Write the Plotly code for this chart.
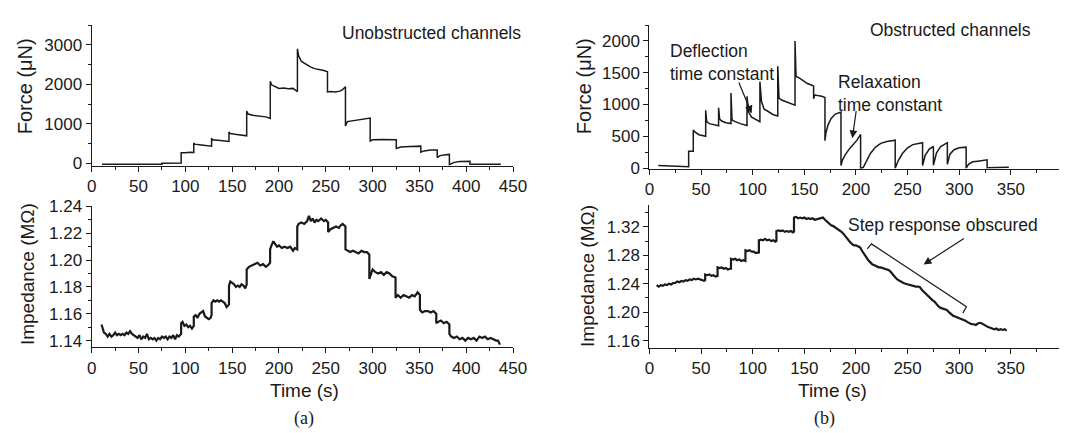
import plotly.graph_objects as go

# ---------------- data ----------------
# (a) unobstructed channels: force (uN) vs time (s)
force_a_time = [11, 20, 30, 40, 50, 60, 70, 75, 75, 80, 85, 90, 95.5,
                95.5, 100, 105, 109,
                109, 110, 115, 120, 125, 128,
                128, 129, 135, 140, 146.6,
                146.6, 148, 153, 160, 165.5,
                165.5, 167, 172, 180, 186, 190.7,
                190.7, 192, 196, 200, 205, 210, 215, 219.7,
                219.7, 221, 224, 228, 233, 238, 243, 248, 251.8,
                251.8, 255, 260, 265, 268, 271,
                271, 273, 278, 285, 290, 295, 297.4,
                297.4, 300, 310, 318, 325.3,
                325.3, 330, 340, 351.5,
                351.5, 355, 362, 369,
                369, 372, 378, 382,
                382, 387, 393, 398, 404,
                404, 410, 420, 430, 437]
force_a_value = [-15, -18, -20, -15, -20, -18, -20, -20, 10, 15, 5, 20, 15,
                 275, 270, 285, 280,
                 520, 490, 475, 465, 450, 440,
                 640, 600, 590, 570, 560,
                 800, 760, 740, 720, 700,
                 1330, 1250, 1220, 1200, 1180, 1140,
                 2080, 1990, 1950, 1900, 1910, 1890, 1900, 1820,
                 2900, 2720, 2580, 2520, 2450, 2400, 2380, 2350, 2320,
                 1810, 1820, 1810, 1830, 1870, 1940,
                 950, 1060, 1080, 1100, 1120, 1150, 1150,
                 570, 600, 610, 600, 600,
                 380, 420, 430, 440,
                 290, 320, 340, 340,
                 150, 200, 220, 230,
                 -30, 30, 50, 60, 60,
                 -20, -15, -20, -18, -20]

# (a) unobstructed channels: impedance (MOhm) vs time (s)
imp_a_time = [10.5, 11.5, 13, 15, 17, 19, 21, 23, 25, 27, 29, 31, 33, 35, 37, 39, 41, 43, 45, 47,
              49, 51, 53, 55, 57, 59, 61, 63, 65, 67, 69, 71, 73, 75, 77, 79, 81, 83, 85, 87,
              89, 91, 93, 95.5,
              95.5, 97, 99, 101, 103, 105, 107, 109,
              109, 111, 113, 115, 117, 119, 121, 123, 125, 127, 128,
              128, 130, 132, 134, 136, 138, 140, 142, 144, 146.6,
              146.6, 148, 150, 152, 154, 156, 158, 160, 162, 164, 165.5,
              165.5, 168, 171, 174, 177, 180, 183, 186, 188, 190.5,
              190.5, 192, 194, 196, 198, 200, 203, 206, 209, 212, 215, 217, 219.5,
              219.5, 221, 224, 227, 230, 232, 234, 236, 238, 240, 242, 245, 248, 250, 252.5,
              252.5, 255, 258, 261, 264, 266, 268, 271,
              271, 273, 276, 279, 282, 285, 288, 291, 294, 296.5,
              296.5, 298, 300, 303, 306, 309, 312, 315, 318, 321, 324.5,
              324.5, 327, 330, 333, 336, 339, 342, 345, 348, 350.5,
              350.5, 353, 356, 359, 362, 365, 368,
              368, 370, 373, 376, 379, 382,
              382, 384, 387, 390, 393, 396, 399, 402, 405, 408, 411, 414, 417, 420, 423, 426,
              429, 432, 434, 436]
imp_a_value = [1.152, 1.149, 1.146, 1.145, 1.143, 1.145, 1.143, 1.144, 1.146, 1.144, 1.145, 1.144,
               1.145, 1.144, 1.146, 1.145, 1.147, 1.145, 1.144, 1.143, 1.142, 1.144, 1.141, 1.143,
               1.142, 1.145, 1.141, 1.142, 1.141, 1.142, 1.140, 1.142, 1.141, 1.143, 1.142, 1.143,
               1.141, 1.143, 1.142, 1.144, 1.141, 1.144, 1.143, 1.145,
               1.153, 1.154, 1.151, 1.152, 1.150, 1.151, 1.149, 1.151,
               1.158, 1.159, 1.157, 1.160, 1.161, 1.162, 1.158, 1.157, 1.156, 1.157, 1.159,
               1.168, 1.170, 1.169, 1.170, 1.169, 1.170, 1.169, 1.168, 1.165, 1.167,
               1.181, 1.184, 1.183, 1.182, 1.180, 1.181, 1.180, 1.182, 1.181, 1.179, 1.182,
               1.193, 1.195, 1.196, 1.197, 1.198, 1.196, 1.197, 1.195, 1.196, 1.198,
               1.208, 1.211, 1.214, 1.212, 1.210, 1.211, 1.209, 1.210, 1.209, 1.210, 1.207, 1.209, 1.208,
               1.225, 1.227, 1.228, 1.227, 1.229, 1.233, 1.229, 1.231, 1.228, 1.230, 1.229, 1.231,
               1.229, 1.230, 1.228,
               1.221, 1.223, 1.224, 1.225, 1.224, 1.226, 1.227, 1.225,
               1.208, 1.207, 1.206, 1.207, 1.206, 1.205, 1.207, 1.206, 1.206, 1.204,
               1.186, 1.189, 1.193, 1.191, 1.190, 1.191, 1.189, 1.191, 1.190, 1.188, 1.187,
               1.172, 1.174, 1.172, 1.174, 1.173, 1.172, 1.174, 1.173, 1.176, 1.174,
               1.163, 1.161, 1.162, 1.162, 1.161, 1.162, 1.160,
               1.153, 1.154, 1.155, 1.153, 1.154, 1.152,
               1.145, 1.143, 1.142, 1.143, 1.141, 1.142, 1.140, 1.142, 1.141, 1.142, 1.140, 1.143,
               1.142, 1.143, 1.141, 1.142, 1.141, 1.140, 1.140, 1.137]

# (b) obstructed channels: force (uN) vs time (s)
force_b_time = [8.6, 15, 20, 30, 38,
                38, 42.5,
                42.5, 44, 48, 54.5,
                54.5, 55.5, 58, 62, 67,
                67, 68, 70, 74, 79,
                79, 80, 83, 88, 94.5,
                94.5, 96, 99, 103, 107,
                107, 108.5, 111, 116, 120, 124.3,
                124.3, 125.5, 128, 133, 138, 141,
                141, 142, 145, 149, 153, 158, 159,
                159, 160, 163, 167, 170,
                170, 171, 173, 176, 180, 185.5,
                185.5, 187, 190, 194, 198, 201, 204.5,
                204.5, 207, 210, 214, 219, 224, 230, 238,
                238, 241, 245, 250, 255, 260, 264.5,
                264.5, 267, 271, 275,
                275, 278, 282, 288.5,
                288.5, 291, 295, 300, 306.7,
                306.7, 309, 313, 318, 323, 327,
                327, 335, 345, 348]
force_b_value = [40, 35, 25, 22, 22,
                 265, 265,
                 600, 570, 525, 500,
                 910, 730, 700, 680, 665,
                 950, 770, 740, 715, 700,
                 1180, 760, 730, 700, 670,
                 1130, 880, 800, 760, 730,
                 1360, 1050, 930, 880, 840, 820,
                 1600, 1100, 1070, 1040, 1010, 990,
                 2000, 1440, 1420, 1380, 1330, 1300, 1290,
                 1090, 1150, 1140, 1130, 1110,
                 430, 560, 680, 780, 850, 880,
                 40, 130, 220, 310, 380, 440, 530,
                 0, 10, 100, 230, 330, 390, 420, 440,
                 0, 120, 230, 320, 370, 390, 400,
                 40, 200, 300, 340,
                 45, 240, 340, 400,
                 60, 220, 290, 320, 330,
                 0, 60, 100, 110, 120, 130,
                 5, 5, 10, 15]

# (b) obstructed channels: impedance (MOhm) vs time (s)
imp_b_time = [7, 9, 11, 13, 15, 17, 19, 21, 23, 25, 27, 29, 31, 33, 35, 37, 39, 41, 43, 45, 47, 49, 51, 53, 54,
              54, 56, 58, 60, 62, 64, 66,
              66, 68, 70, 72, 74, 76, 78, 79,
              79, 81, 83, 85, 87, 89, 91, 93,
              93, 95, 97, 99, 101, 103, 105, 106,
              106, 108, 110, 112, 114, 116, 118, 120, 122, 123,
              123, 125, 127, 129, 131, 133, 135, 137, 139, 140,
              140, 142, 144, 146, 148, 150, 152, 154, 156, 158, 160, 162, 164, 166, 168, 170,
              172, 174, 176, 178, 180, 182, 184, 186, 188, 190, 192, 194, 196, 198, 200, 202,
              204, 206, 208, 210, 212, 214, 216, 218, 220, 222, 224, 226, 228, 230, 232, 234,
              236, 238, 240, 242, 244, 246, 248, 250, 252, 254, 256, 258, 260, 262, 264, 266,
              268, 270, 272, 274, 276, 278, 280, 282, 284, 286, 288, 290, 292, 294, 296, 298,
              300, 302, 304, 306, 308, 310, 312, 314, 316, 318, 320, 322, 324, 326, 328, 330,
              332, 334, 336, 338, 340, 342, 344, 346]
imp_b_value = [1.238, 1.236, 1.238, 1.237, 1.239, 1.238, 1.240, 1.239, 1.241, 1.241, 1.243, 1.242,
               1.244, 1.243, 1.245, 1.244, 1.246, 1.245, 1.247, 1.246, 1.247, 1.246, 1.245, 1.244, 1.245,
               1.253, 1.252, 1.253, 1.251, 1.252, 1.250, 1.251,
               1.263, 1.262, 1.263, 1.261, 1.262, 1.260, 1.261, 1.261,
               1.275, 1.274, 1.275, 1.273, 1.274, 1.272, 1.273, 1.272,
               1.287, 1.286, 1.287, 1.285, 1.285, 1.283, 1.284, 1.283,
               1.301, 1.302, 1.301, 1.303, 1.301, 1.302, 1.300, 1.301, 1.299, 1.300,
               1.314, 1.315, 1.314, 1.315, 1.313, 1.314, 1.313, 1.314, 1.312, 1.313,
               1.333, 1.334, 1.332, 1.333, 1.332, 1.333, 1.331, 1.332, 1.331, 1.332, 1.330, 1.331,
               1.331, 1.332, 1.333, 1.330,
               1.327, 1.324, 1.322, 1.321, 1.319, 1.318, 1.316, 1.313, 1.310, 1.306, 1.302, 1.299,
               1.296, 1.294, 1.294, 1.293,
               1.291, 1.286, 1.281, 1.277, 1.273, 1.270, 1.267, 1.266, 1.264, 1.263, 1.263, 1.262,
               1.261, 1.260, 1.259, 1.256,
               1.252, 1.249, 1.246, 1.244, 1.243, 1.241, 1.240, 1.239, 1.238, 1.237, 1.237, 1.236,
               1.236, 1.235, 1.231, 1.228,
               1.225, 1.222, 1.219, 1.217, 1.215, 1.211, 1.208, 1.206, 1.205, 1.204, 1.203, 1.200,
               1.197, 1.195, 1.194, 1.193,
               1.192, 1.191, 1.190, 1.188, 1.186, 1.184, 1.183, 1.183, 1.182, 1.184, 1.185, 1.184,
               1.182, 1.180, 1.179, 1.178,
               1.177, 1.176, 1.177, 1.175, 1.176, 1.175, 1.176, 1.174]

# annotation bracket (time, impedance) in panel (b)
bracket_time = [211, 215, 307, 303.5]
bracket_value = [1.289, 1.296, 1.2076, 1.1987]

# ---------------- figure ----------------
W, H = 1074, 433
FONT = "Liberation Sans, Arial, Helvetica, sans-serif"
INK = "#1a1a1a"


def px(x):
    return x / W


def py(y):
    return 1 - y / H


fig = go.Figure()
line_f = dict(color=INK, width=1.5)
line_z = dict(color=INK, width=2.2)
fig.add_trace(go.Scatter(x=force_a_time, y=force_a_value, mode="lines", line=line_f, xaxis="x", yaxis="y"))
fig.add_trace(go.Scatter(x=imp_a_time, y=imp_a_value, mode="lines", line=line_z, xaxis="x2", yaxis="y2"))
fig.add_trace(go.Scatter(x=force_b_time, y=force_b_value, mode="lines", line=line_f, xaxis="x3", yaxis="y3"))
fig.add_trace(go.Scatter(x=imp_b_time, y=imp_b_value, mode="lines", line=line_z, xaxis="x4", yaxis="y4"))
fig.add_trace(go.Scatter(x=bracket_time, y=bracket_value, mode="lines",
                         line=dict(color=INK, width=1.2), xaxis="x4", yaxis="y4"))


def ax(domain, rng, dtick, minor, anchor, fmt=None):
    d = dict(domain=domain, range=rng, anchor=anchor, showline=True, linecolor=INK, linewidth=1.3,
             ticks="outside", ticklen=5, tickwidth=1.2, tickcolor=INK, showgrid=False, zeroline=False,
             tick0=0, dtick=dtick, tickfont=dict(family=FONT, size=17, color=INK),
             minor=dict(ticks="outside", ticklen=3, tickwidth=1, tickcolor=INK, dtick=minor, showgrid=False),
             mirror=False)
    if fmt:
        d["tickformat"] = fmt
    return d


left_x = [px(88.3), px(517.2)]
right_x = [px(656), px(1073.4)]
tl_y = [py(163.3), py(16.8)]
bl_y = [py(353), py(206)]
tr_y = [py(166.7), py(16.7)]
br_y = [py(353.4), py(205.0)]

fig.update_layout(
    width=W, height=H, margin=dict(l=0, r=0, t=0, b=0),
    paper_bgcolor="white", plot_bgcolor="white", showlegend=False,
    xaxis=ax(left_x, [0, 450], 50, 25, "y"),
    yaxis=ax(tl_y, [-50, 3500], 1000, 500, "x"),
    xaxis2=ax(left_x, [0, 450], 50, 25, "y2"),
    yaxis2=ax(bl_y, [1.135, 1.24], 0.02, 0.01, "x2", ".2f"),
    xaxis3=ax(right_x, [0, 397], 50, 25, "y3"),
    yaxis3=ax(tr_y, [-10, 2250], 500, 250, "x3"),
    xaxis4=ax(right_x, [0, 397], 50, 25, "y4"),
    yaxis4=ax(br_y, [1.15, 1.35], 0.04, 0.02, "x4", ".2f"),
)

ann = []
tfont = dict(family=FONT, size=19, color=INK)
ffont = dict(family=FONT, size=20, color=INK)
afont = dict(family=FONT, size=17.5, color=INK)
# axis titles
ann.append(dict(text="Force (μN)", x=px(20), y=py(81), textangle=-90, font=ffont))
ann.append(dict(text="Impedance (MΩ)", x=px(23), y=py(277), textangle=-90, font=tfont))
ann.append(dict(text="Force (μN)", x=px(589), y=py(81), textangle=-90, font=ffont))
ann.append(dict(text="Impedance (MΩ)", x=px(593), y=py(279), textangle=-90, font=tfont))
ann.append(dict(text="Time (s)", x=px(305), y=py(398), font=tfont))
ann.append(dict(text="Time (s)", x=px(842), y=py(398), font=tfont))
# panel letters
sfont = dict(family="Liberation Serif, Times New Roman, serif", size=18, color=INK)
ann.append(dict(text="(a)", x=px(304), y=py(427), font=sfont))
ann.append(dict(text="(b)", x=px(834), y=py(427), font=sfont))
# panel texts
ann.append(dict(text="Unobstructed channels", x=px(527), y=py(25), xanchor="right", font=afont))
ann.append(dict(text="Obstructed channels", x=px(1047), y=py(22), xanchor="right", font=afont))
ann.append(dict(text="Deflection<br>time constant", x=px(675), y=py(55.5), xanchor="left", align="left", font=afont))
ann.append(dict(text="Relaxation<br>time constant", x=px(846), y=py(88), xanchor="left", align="left", font=afont))
ann.append(dict(text="Step response obscured", x=px(1054), y=py(225), xanchor="right", font=afont))
for a in ann:
    a.setdefault("xref", "paper")
    a.setdefault("yref", "paper")
    a.setdefault("showarrow", False)
    a.setdefault("yanchor", "middle")
    a.setdefault("xanchor", "center")

arrows = [
    dict(xref="x3", yref="y3", axref="x3", ayref="y3", x=99, y=860, ax=86, ay=1370),
    dict(xref="x3", yref="y3", axref="x3", ayref="y3", x=196.5, y=470, ax=200.4, ay=920),
    dict(xref="x4", yref="y4", axref="x4", ayref="y4", x=265.5, y=1.267, ax=306, ay=1.305),
]
for a in arrows:
    a.update(text="", showarrow=True, arrowhead=2, arrowsize=1.3, arrowwidth=1.2, arrowcolor=INK)
    ann.append(a)

fig.update_layout(annotations=ann)
fig.write_html("out.html")
